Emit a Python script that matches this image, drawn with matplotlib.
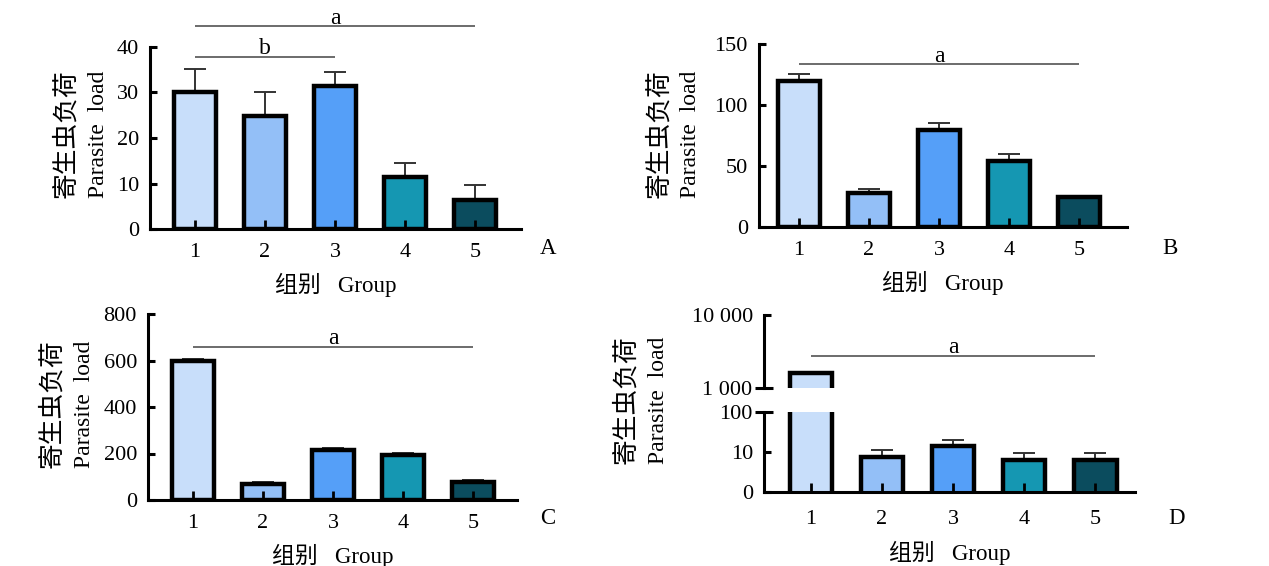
import numpy as np
import matplotlib
matplotlib.use("Agg")
import matplotlib.pyplot as plt

# figure size in pixels
W, H = 1269, 566

SERIF = ["Liberation Serif", "Noto Sans CJK SC"]
CJK = ["Noto Sans CJK SC"]
plt.rcParams["font.family"] = SERIF
plt.rcParams["font.size"] = 16

groups = [1, 2, 3, 4, 5]
group_labels = ["1", "2", "3", "4", "5"]
colors = ["#c8defa", "#93bff7", "#559ff8", "#1597b2", "#0b4c5e"]

# panel A
a_mean = [30.0, 24.7, 31.4, 11.4, 6.4]
a_upper = [35.0, 30.0, 34.5, 14.5, 9.6]
# panel B
b_mean = [119.6, 27.9, 79.4, 54.2, 24.6]
b_upper = [125.6, 31.5, 85.4, 60.2, 25.0]
# panel C
c_mean = [599, 69, 215, 192, 79]
c_upper = [607, 76, 225, 201, 86]
# panel D (broken log axis)
d_mean = [1640, 7.5, 14, 6.2, 6.2]
d_upper = [1640, 11, 20, 9.4, 9.4]

fig = plt.figure(figsize=(W / 100, H / 100), dpi=100)


def px_axes(x0, x1, y0, y1):
    return fig.add_axes([x0 / W, 1 - y1 / H, (x1 - x0) / W, (y1 - y0) / H])


def style(ax):
    for s in ["top", "right"]:
        ax.spines[s].set_visible(False)
    for s in ["left", "bottom"]:
        ax.spines[s].set_linewidth(2.2)
    ax.set_axisbelow(False)
    ax.tick_params(axis="y", direction="in", length=5, width=2.2, pad=8)
    ax.tick_params(axis="x", direction="in", length=6.5, width=2.0, pad=10)


def draw_bars(ax, mean, upper):
    mean = np.array(mean, dtype=float)
    upper = np.array(upper, dtype=float)
    ax.errorbar(groups, mean, yerr=[np.zeros(len(mean)), upper - mean], fmt="none",
                ecolor="#333333", elinewidth=1.4, capsize=8, capthick=1.4, zorder=1)
    ax.bar(groups, mean, width=0.6, color=colors, edgecolor="black",
           linewidth=3.2, zorder=2)


def sig(ax, x0, x1, y, letter):
    ax.plot([x0, x1], [y, y], color="#444444", lw=1.1, clip_on=False,
            solid_capstyle="butt")
    ax.annotate(letter, ((x0 + x1) / 2, y), xytext=(0, 2), textcoords="offset points",
                ha="center", va="baseline", fontsize=17, annotation_clip=False)


def ylabel(cx, cy):
    fig.text((cx - 16) / W, 1 - cy / H, "寄生虫负荷", family=CJK, fontsize=18.5,
             rotation=90, ha="center", va="center")
    fig.text((cx + 16) / W, 1 - cy / H, "Parasite  load", fontsize=17,
             rotation=90, ha="center", va="center")


def xlabel(ax):
    ax.set_xlabel("组别   Group", fontsize=16.5, labelpad=8)


# ---- A ----
axA = px_axes(150, 521, 46.5, 229.3)
style(axA)
draw_bars(axA, a_mean, a_upper)
axA.set_xlim(0.357, 5.657)
axA.set_ylim(0, 40)
axA.set_yticks([0, 10, 20, 30, 40])
axA.set_xticks(groups, group_labels)
sig(axA, 1, 5, 44.4, "a")
sig(axA, 1, 3, 37.8, "b")
xlabel(axA)
ylabel(82, 134)
fig.text(548 / W, 1 - 249 / H, "A", fontsize=16.5, ha="center", va="center")

# ---- B ----
axB = px_axes(759, 1127, 44, 227)
style(axB)
draw_bars(axB, b_mean, b_upper)
axB.set_xlim(0.43, 5.686)
axB.set_ylim(0, 150)
axB.set_yticks([0, 50, 100, 150])
axB.set_xticks(groups, group_labels)
sig(axB, 1, 5, 133.3, "a")
xlabel(axB)
ylabel(675, 134)
fig.text(1170 / W, 1 - 249 / H, "B", fontsize=16.5, ha="center", va="center")

# ---- C ----
axC = px_axes(148, 517, 314, 500)
style(axC)
draw_bars(axC, c_mean, c_upper)
axC.set_xlim(0.357, 5.63)
axC.set_ylim(0, 800)
axC.set_yticks([0, 200, 400, 600, 800])
axC.set_xticks(groups, group_labels)
sig(axC, 1, 5, 660, "a")
xlabel(axC)
ylabel(68, 404)
fig.text(548 / W, 1 - 518 / H, "C", fontsize=16.5, ha="center", va="center")

# ---- D (broken axis) ----
d_xlim = (0.34, 5.56)
axD = px_axes(764, 1135, 412, 491.7)
style(axD)
axD.set_yscale("log")
draw_bars(axD, d_mean, d_upper)
axD.set_xlim(*d_xlim)
axD.set_ylim(1, 100)
axD.set_yticks([1, 10], ["0", "10"])
axD.set_yticks([100], ["100"], minor=True)
axD.tick_params(axis="y", which="minor", direction="inout", length=13, width=2.2, pad=2)
axD.tick_params(axis="x", pad=13.5)
axD.set_xticks(groups, group_labels)
xlabel(axD)

axD2 = px_axes(764, 1135, 315, 388.3)
style(axD2)
axD2.spines["bottom"].set_visible(False)
axD2.set_yscale("log")
draw_bars(axD2, d_mean, d_upper)
axD2.set_xlim(*d_xlim)
axD2.set_ylim(1000, 10000)
axD2.set_yticks([10000], ["10 000"])
axD2.set_yticks([1000], ["1 000"], minor=True)
axD2.tick_params(axis="y", which="minor", direction="inout", length=13, width=2.2, pad=2)
axD2.set_xticks([])
sig(axD2, 1, 5, 2800, "a")
ylabel(642, 400)
fig.text(1177 / W, 1 - 518 / H, "D", fontsize=16.5, ha="center", va="center")

fig.savefig("out.png", dpi=100)
